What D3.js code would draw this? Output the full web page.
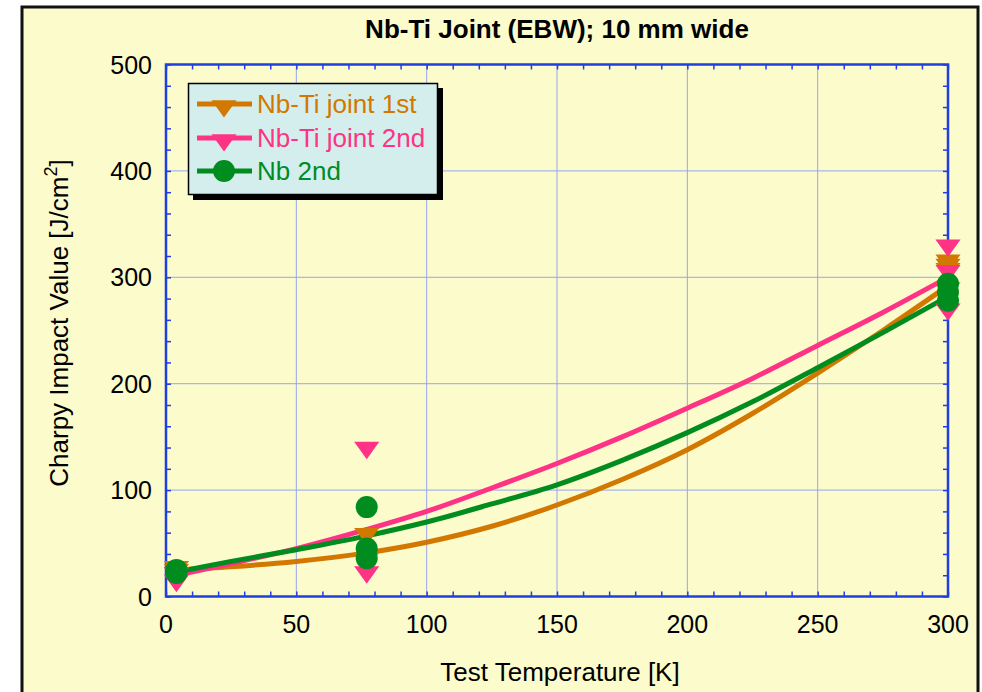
<!DOCTYPE html>
<html>
<head>
<meta charset="utf-8">
<script src="https://cdn.jsdelivr.net/npm/d3@7"></script>
<style>
  html, body { margin: 0; padding: 0; background: #ffffff; }
  svg { display: block; font-family: "Liberation Sans", Arial, Helvetica, sans-serif; }
</style>
</head>
<body>
<svg id="chart" width="982" height="692"></svg>
<script>
// Measured Charpy impact values [J/cm^2] at each test temperature [K]
const joint1stTemp  = [4, 4, 4, 77, 77, 300, 300, 300, 300];
const joint1stValue = [28, 25, 22, 59, 36, 316, 312, 308, 290];

const joint2ndTemp  = [4, 4, 77, 77, 300, 300, 300];
const joint2ndValue = [15, 22, 140, 23, 330, 306, 270];

const nb2ndTemp  = [4, 4, 77, 77, 77, 300, 300, 300];
const nb2ndValue = [25, 22, 84, 45, 36, 294, 286, 278];

// Fitted trend curves, sampled along temperature
const fitTemp      = [4, 25, 50, 77, 100, 125, 150, 175, 200, 225, 250, 275, 300];
const joint1stFit  = [25, 28, 33, 41, 51, 66, 86, 110, 138, 172, 210, 250, 292];
const joint2ndFit  = [20, 31, 45, 63, 80, 102, 125, 150, 177, 205, 236, 267, 300];
const nb2ndFit     = [23, 33, 44, 57, 70, 87, 105, 128, 154, 183, 215, 248, 282];

const xMajorTicks = [0, 50, 100, 150, 200, 250, 300];
const yMajorTicks = [0, 100, 200, 300, 400, 500];

const seriesNames = ["Nb-Ti joint 1st", "Nb-Ti joint 2nd", "Nb 2nd"];
const seriesColors = ["#d27800", "#ff3385", "#008c1e"];

const svg = d3.select("#chart");
const plot = { left: 166, right: 948, top: 64.5, bottom: 596.5 };

const x = d3.scaleLinear().domain([0, 300]).range([plot.left, plot.right]);
const y = d3.scaleLinear().domain([0, 500]).range([plot.bottom, plot.top]);

// Page frame
svg.append("rect").attr("x", 22).attr("y", 7).attr("width", 956).attr("height", 720)
  .attr("fill", "#fbfbcc").attr("stroke", "#111").attr("stroke-width", 3);

// Grid lines at the major ticks
const grid = svg.append("g").attr("stroke", "#98a6f0").attr("stroke-width", 1);
grid.selectAll(".gx").data(xMajorTicks.slice(1, -1)).join("line")
  .attr("x1", d => x(d)).attr("x2", d => x(d)).attr("y1", plot.top).attr("y2", plot.bottom);
grid.selectAll(".gy").data(yMajorTicks.slice(1, -1)).join("line")
  .attr("y1", d => y(d)).attr("y2", d => y(d)).attr("x1", plot.left).attr("x2", plot.right);

// Axes with inward minor ticks on all four sides
const axisColor = "#1f3fe0";
const xMinor = d3.range(0, 301, 10);
const yMinor = d3.range(0, 501, 20);
function styleAxis(g) {
  g.select(".domain").remove();
  g.selectAll(".tick line").attr("stroke", axisColor).attr("stroke-width", 1.5);
}
svg.append("g").attr("transform", `translate(0,${plot.bottom})`)
  .call(d3.axisTop(x).tickValues(xMinor).tickSize(5).tickFormat(""))
  .call(styleAxis);
svg.append("g").attr("transform", `translate(0,${plot.top})`)
  .call(d3.axisBottom(x).tickValues(xMinor).tickSize(5).tickFormat(""))
  .call(styleAxis);
svg.append("g").attr("transform", `translate(${plot.left},0)`)
  .call(d3.axisRight(y).tickValues(yMinor).tickSize(5).tickFormat(""))
  .call(styleAxis);
svg.append("g").attr("transform", `translate(${plot.right},0)`)
  .call(d3.axisLeft(y).tickValues(yMinor).tickSize(5).tickFormat(""))
  .call(styleAxis);

svg.append("rect").attr("x", plot.left).attr("y", plot.top)
  .attr("width", plot.right - plot.left).attr("height", plot.bottom - plot.top)
  .attr("fill", "none").attr("stroke", axisColor).attr("stroke-width", 2.5);

// Tick labels
const tickFont = 25;
const labelFont = 26;
svg.append("g").selectAll("text").data(xMajorTicks).join("text")
  .attr("x", d => x(d)).attr("y", 633)
  .attr("text-anchor", "middle").attr("font-size", tickFont).attr("fill", "#000")
  .text(d => d);
svg.append("g").selectAll("text").data(yMajorTicks).join("text")
  .attr("x", 152).attr("y", d => y(d)).attr("dy", "0.36em")
  .attr("text-anchor", "end").attr("font-size", tickFont).attr("fill", "#000")
  .text(d => d);

// Titles
svg.append("text").attr("x", 557).attr("y", 38).attr("text-anchor", "middle")
  .attr("font-size", 26).attr("font-weight", "bold").text("Nb-Ti Joint (EBW); 10 mm wide");
svg.append("text").attr("x", 560).attr("y", 681).attr("text-anchor", "middle")
  .attr("font-size", labelFont).text("Test Temperature [K]");
const yl = svg.append("text").attr("transform", "translate(68,323) rotate(-90)")
  .attr("text-anchor", "middle").attr("font-size", labelFont);
yl.append("tspan").text("Charpy Impact Value [J/cm");
yl.append("tspan").attr("dy", -11).attr("font-size", 18).text("2");
yl.append("tspan").attr("dy", 11).text("]");

// Fitted curves
const line = d3.line().x(d => x(d[0])).y(d => y(d[1])).curve(d3.curveMonotoneX);
const fits = [joint1stFit, joint2ndFit, nb2ndFit];
const plotArea = svg.append("g");
fits.forEach((vals, i) => {
  plotArea.append("path")
    .datum(fitTemp.map((t, k) => [t, vals[k]]))
    .attr("d", line).attr("fill", "none")
    .attr("stroke", seriesColors[i]).attr("stroke-width", 5).attr("stroke-linejoin", "round");
});

// Markers
const tri = d3.symbol().type(d3.symbolTriangle).size(175);
function drawTriangles(temps, vals, color) {
  plotArea.append("g").selectAll("path").data(temps.map((t, k) => [t, vals[k]])).join("path")
    .attr("d", tri)
    .attr("transform", d => `translate(${x(d[0])},${y(d[1])}) rotate(180) scale(1.25,1)`)
    .attr("fill", color);
}
drawTriangles(joint1stTemp, joint1stValue, seriesColors[0]);
drawTriangles(joint2ndTemp, joint2ndValue, seriesColors[1]);
plotArea.append("g").selectAll("circle").data(nb2ndTemp.map((t, k) => [t, nb2ndValue[k]])).join("circle")
  .attr("cx", d => x(d[0])).attr("cy", d => y(d[1])).attr("r", 11)
  .attr("fill", seriesColors[2]);

// Legend
const lg = svg.append("g");
lg.append("rect").attr("x", 193).attr("y", 88).attr("width", 250).attr("height", 112).attr("fill", "#000");
lg.append("rect").attr("x", 188.5).attr("y", 83.5).attr("width", 249).attr("height", 111)
  .attr("fill", "#d4eeee").attr("stroke", "#000").attr("stroke-width", 1.5);
const rowsY = [104, 138, 171];
seriesNames.forEach((name, i) => {
  const ry = rowsY[i];
  lg.append("line").attr("x1", 197).attr("x2", 252).attr("y1", ry).attr("y2", ry)
    .attr("stroke", seriesColors[i]).attr("stroke-width", 5);
  if (i < 2) {
    lg.append("path").attr("d", tri)
      .attr("transform", `translate(224,${ry + 2}) rotate(180) scale(1.25,1)`)
      .attr("fill", seriesColors[i]);
  } else {
    lg.append("circle").attr("cx", 224).attr("cy", ry).attr("r", 11).attr("fill", seriesColors[i]);
  }
  lg.append("text").attr("x", 257).attr("y", ry).attr("dy", "0.36em")
    .attr("font-size", labelFont).attr("fill", seriesColors[i]).text(name);
});
</script>
</body>
</html>
